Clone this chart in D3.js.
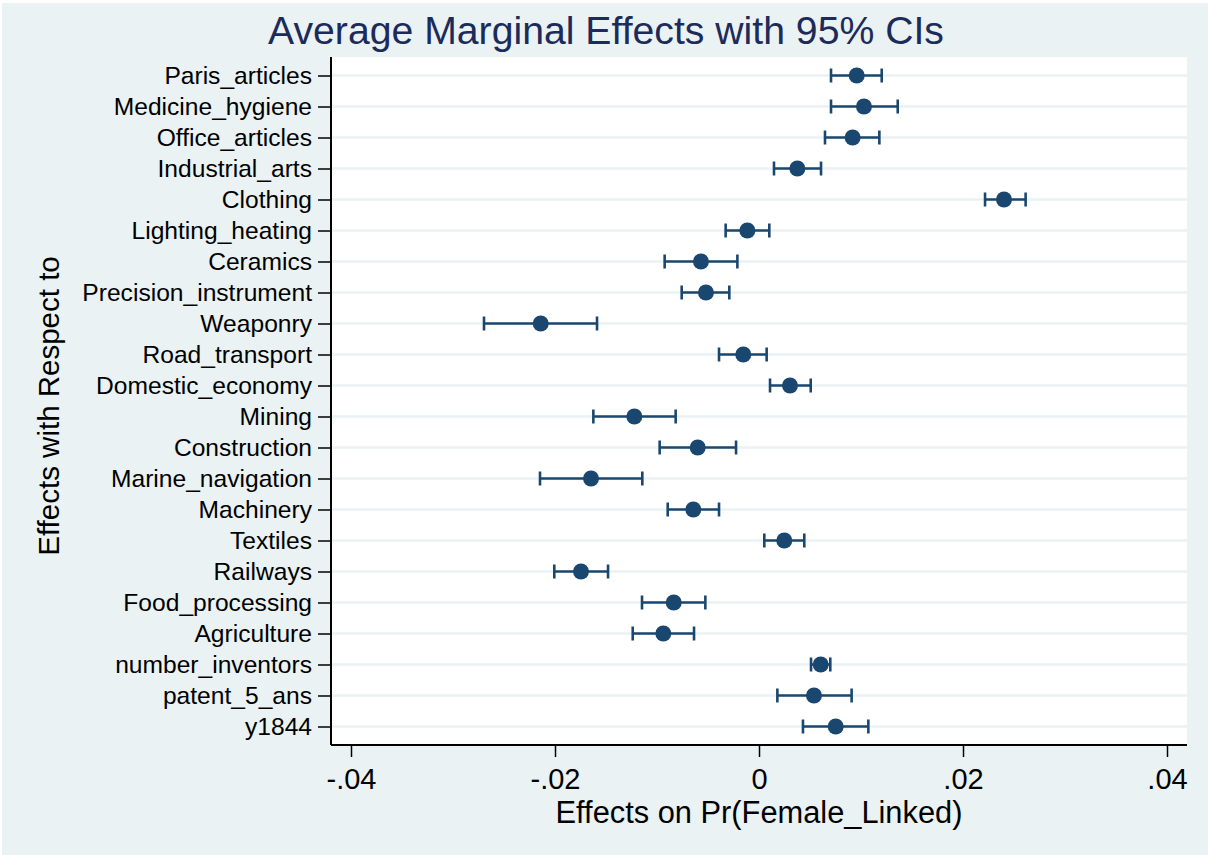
<!DOCTYPE html>
<html><head><meta charset="utf-8">
<script src="https://cdn.jsdelivr.net/npm/d3@7"></script>
<style>html,body{margin:0;padding:0;background:#fff;}svg{display:block;font-family:"Liberation Sans",Arial,sans-serif;}</style>
</head><body>
<svg id="c" width="1208" height="855"></svg>
<script>
const categories = ["Paris_articles","Medicine_hygiene","Office_articles","Industrial_arts","Clothing","Lighting_heating","Ceramics","Precision_instrument","Weaponry","Road_transport","Domestic_economy","Mining","Construction","Marine_navigation","Machinery","Textiles","Railways","Food_processing","Agriculture","number_inventors","patent_5_ans","y1844"];
const estimates = [0.00958,0.01029,0.00918,0.00376,0.02402,-0.00114,-0.00569,-0.0052,-0.0214,-0.00154,0.00304,-0.01222,-0.00601,-0.01647,-0.00644,0.00248,-0.01745,-0.00836,-0.00938,0.00605,0.00539,0.00752];
const ciLow = [0.00706,0.00706,0.00647,0.00147,0.02216,-0.00327,-0.00925,-0.00758,-0.02696,-0.00392,0.00108,-0.01624,-0.00974,-0.02147,-0.00895,0.00052,-0.02007,-0.01147,-0.01238,0.0051,0.0018,0.00431];
const ciHigh = [0.01203,0.0136,0.0118,0.00608,0.02614,0.00101,-0.00212,-0.00291,-0.01588,0.00075,0.00507,-0.00817,-0.00225,-0.01144,-0.00392,0.00444,-0.0148,-0.00526,-0.00637,0.00699,0.00908,0.01072];
const xTicks = [-0.04,-0.02,0,0.02,0.04];
const xTickLabels = ["-.04","-.02","0",".02",".04"];
const titleText = "Average Marginal Effects with 95% CIs";
const xTitle = "Effects on Pr(Female_Linked)";
const yTitle = "Effects with Respect to";

const data = categories.map((c,i)=>({c, est:estimates[i], lo:ciLow[i], hi:ciHigh[i]}));

const svg = d3.select("#c");
const W=1208,H=855;
const navy="#1a476f", bg="#eaf2f3";
const plot={left:331,right:1187,top:57,bottom:745};

svg.append("rect").attr("x",0).attr("y",0).attr("width",W).attr("height",H).attr("fill","#fff");
svg.append("rect").attr("x",2).attr("y",3).attr("width",W-2).attr("height",H-3).attr("fill",bg);
svg.append("rect").attr("x",plot.left).attr("y",plot.top).attr("width",plot.right-plot.left).attr("height",plot.bottom-plot.top).attr("fill","#fff");

const x = d3.scaleLinear().domain([-0.04,0.04]).range([351,1167]);
const y = d3.scalePoint().domain(categories).range([plot.top,plot.bottom]).padding(0.597);

// gridlines
svg.append("g").selectAll("line").data(categories).join("line")
  .attr("x1",plot.left).attr("x2",plot.right)
  .attr("y1",d=>y(d)).attr("y2",d=>y(d))
  .attr("stroke",bg).attr("stroke-width",2.5);

// CI lines
const g = svg.append("g");
g.selectAll("line.ci").data(data).join("line").attr("class","ci")
  .attr("x1",d=>x(d.lo)).attr("x2",d=>x(d.hi))
  .attr("y1",d=>y(d.c)).attr("y2",d=>y(d.c))
  .attr("stroke",navy).attr("stroke-width",2.6);
["lo","hi"].forEach(k=>{
  g.selectAll("line.cap"+k).data(data).join("line").attr("class","cap"+k)
    .attr("x1",d=>x(d[k])).attr("x2",d=>x(d[k]))
    .attr("y1",d=>y(d.c)-7).attr("y2",d=>y(d.c)+7)
    .attr("stroke",navy).attr("stroke-width",2.6);
});
g.selectAll("circle").data(data).join("circle")
  .attr("cx",d=>x(d.est)).attr("cy",d=>y(d.c)).attr("r",8)
  .attr("fill",navy);

// Y axis
const yAxis = d3.axisLeft(y).tickSize(13).tickPadding(6);
const ya = svg.append("g").attr("transform",`translate(${plot.left},0)`).call(yAxis);
ya.select(".domain").attr("d",`M0,${plot.top}V${plot.bottom}`).attr("stroke","#000").attr("stroke-width",2);
ya.selectAll(".tick line").attr("stroke","#000").attr("stroke-width",1.5);
ya.selectAll(".tick text").attr("font-size",24.6).attr("fill","#000").attr("font-family","Liberation Sans, Arial, sans-serif");

// X axis
const xAxis = d3.axisBottom(x).tickValues(xTicks).tickFormat((d,i)=>xTickLabels[i]).tickSize(12).tickPadding(11);
const xa = svg.append("g").attr("transform",`translate(0,${plot.bottom})`).call(xAxis);
xa.select(".domain").attr("d",`M${plot.left},0H${plot.right}`).attr("stroke","#000").attr("stroke-width",2);
xa.selectAll(".tick line").attr("stroke","#000").attr("stroke-width",1.5);
xa.selectAll(".tick text").attr("font-size",29).attr("fill","#000").attr("font-family","Liberation Sans, Arial, sans-serif");

// Titles
svg.append("text").attr("x",606).attr("y",44).attr("text-anchor","middle")
  .attr("font-size",39.2).attr("fill","#1c2b5a").text(titleText);
svg.append("text").attr("x",(plot.left+plot.right)/2).attr("y",823).attr("text-anchor","middle")
  .attr("font-size",30.8).attr("fill","#000").text(xTitle);
svg.append("text").attr("transform",`translate(59,406) rotate(-90)`).attr("text-anchor","middle")
  .attr("font-size",29.5).attr("fill","#000").text(yTitle);
</script>
</body></html>
